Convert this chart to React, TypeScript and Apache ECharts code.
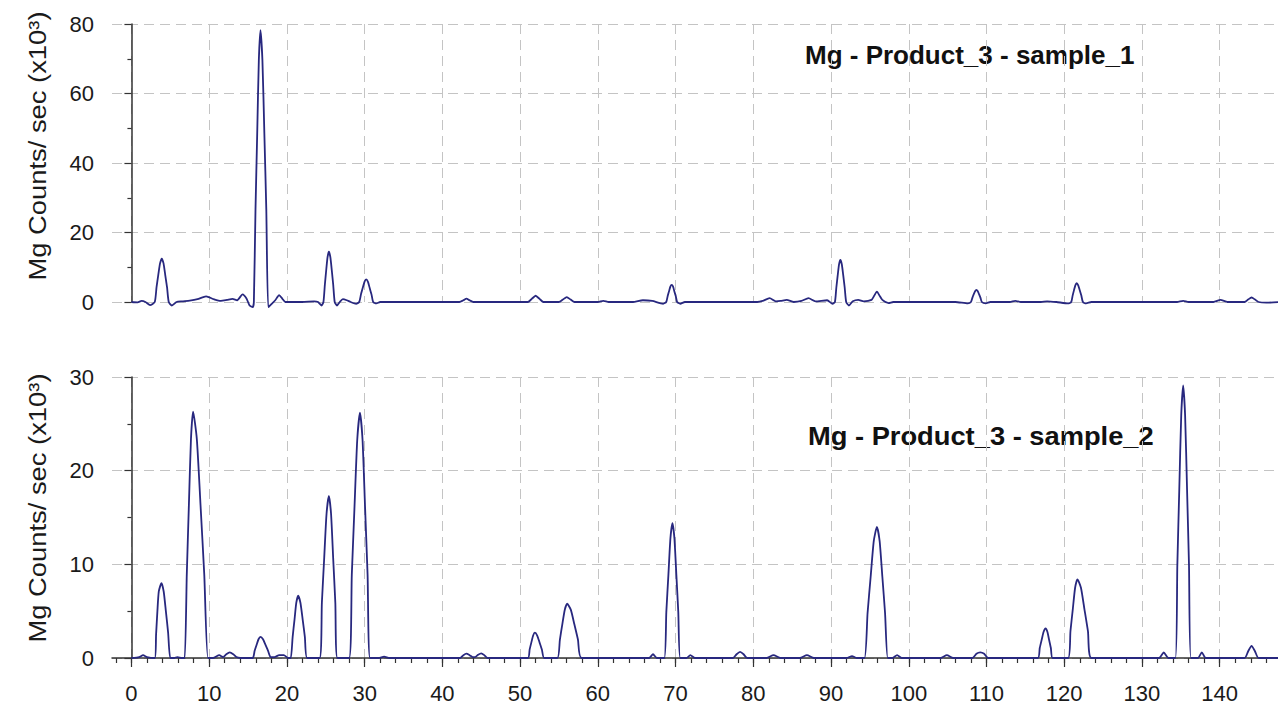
import { useEffect, useRef } from 'react';
import * as echarts from 'echarts';

const X_MIN = -2.5;
const X_MAX = 147.5;
const X_MAJOR_TICKS = [0, 10, 20, 30, 40, 50, 60, 70, 80, 90, 100, 110, 120, 130, 140];
const X_MINOR_TICKS = [-2, 0, 2, 4, 6, 8, 10, 12, 14, 16, 18, 20, 22, 24, 26, 28, 30, 32, 34, 36, 38, 40, 42, 44, 46, 48, 50, 52, 54, 56, 58, 60, 62, 64, 66, 68, 70, 72, 74, 76, 78, 80, 82, 84, 86, 88, 90, 92, 94, 96, 98, 100, 102, 104, 106, 108, 110, 112, 114, 116, 118, 120, 122, 124, 126, 128, 130, 132, 134, 136, 138, 140, 142, 144, 146];
const Y1_TICKS = [0, 20, 40, 60, 80];
const Y2_TICKS = [0, 10, 20, 30];

const TITLE_1 = 'Mg - Product_3 - sample_1';
const TITLE_2 = 'Mg - Product_3 - sample_2';
const Y_NAME = 'Mg Counts/ sec (x10³)';

// sample_1 : [position, counts/sec x10^3]
const SAMPLE_1: [number, number][] = [
  [0, 0], [0.8, -0.1], [1.3, 0.3], [1.8, 0], [2.4, -0.9], [3.0, 0],
  [3.23, 4.25], [3.45, 7.75], [3.68, 11.1], [3.9, 12.5], [4.13, 11.1], [4.35, 7.75], [4.58, 4.25], [4.8, 0],
  [5.2, -1.0], [5.8, 0], [6.5, 0.2], [7.5, 0.4], [8.5, 0.8], [9.6, 1.6], [10.6, 0.8], [11.5, 0.3], [12.3, 0.6], [13.0, 0.9], [13.6, 0.5],
  [14.3, 2.2], [14.8, 1.0], [15.2, -1.0], [15.6, -1.5], [15.75, 0],
  [15.96, 26.6], [16.18, 48.5], [16.39, 69.6], [16.6, 78.2], [16.85, 69.6], [17.1, 48.5], [17.35, 26.6], [17.6, -1.5],
  [18.0, -0.6], [18.5, 0.5], [19.0, 2.0], [19.4, 1.0], [19.8, 0], [20.5, 0], [22.0, 0], [23.5, 0.2], [24.0, 0],
  [24.45, -1.0], [24.7, 0], [24.88, 4.9], [25.05, 9.0], [25.23, 12.9], [25.4, 14.5], [25.59, 12.9], [25.78, 9.0], [25.96, 4.9], [26.15, 0],
  [26.45, -1.0], [26.8, 0], [27.2, 0.8], [27.7, 0.5], [28.2, 0], [28.9, -0.5], [29.3, 0],
  [29.53, 2.2], [29.75, 4.0], [29.98, 5.8], [30.2, 6.5], [30.43, 5.8], [30.65, 4.0], [30.88, 2.2], [31.1, 0],
  [31.5, -0.4], [32.0, 0], [42.2, 0], [42.7, 0.5], [43.1, 1.0], [43.5, 0.5], [44.0, 0],
  [51.0, 0], [51.5, 0.9], [52.0, 1.8], [52.5, 0.9], [53.0, 0], [55.0, 0], [55.5, 0.7], [56.0, 1.4], [56.5, 0.7], [57.0, 0],
  [60.0, 0], [60.7, 0.3], [61.4, 0], [64.5, 0], [65.8, 0.5], [67.0, 0.3], [68.4, -0.5], [68.8, 0],
  [68.98, 1.67], [69.15, 3.0], [69.33, 4.4], [69.5, 4.9], [69.68, 4.4], [69.85, 3.0], [70.03, 1.67], [70.2, 0],
  [70.6, -0.5], [71.2, 0], [80.5, 0], [81.2, 0.3], [82.1, 1.1], [82.9, 0.2],
  [83.5, 0.3], [84.3, 0.6], [85.2, 0], [86.2, 0.3], [87.1, 1.1], [88.0, 0.2], [89.5, 0.5], [90.2, -0.5], [90.5, 0],
  [90.68, 4.1], [90.85, 7.5], [91.03, 10.8], [91.2, 12.1], [91.39, 10.8], [91.58, 7.5], [91.76, 4.1], [91.95, 0],
  [92.3, -1.0], [92.8, 0.2], [93.5, 0.6], [94.2, 0.2], [95.2, 0.6], [95.55, 1.8], [95.9, 3.0], [96.25, 1.8], [96.6, 0.6],
  [97.4, -0.3], [98.0, 0], [106.0, 0], [107.6, -0.4], [108.0, 0],
  [108.18, 1.2], [108.35, 2.2], [108.53, 3.1], [108.7, 3.5], [108.88, 3.1], [109.05, 2.2], [109.23, 1.2], [109.4, 0],
  [109.9, -0.4], [110.5, 0], [113.0, 0], [113.7, 0.3], [114.4, 0], [117.0, 0], [117.8, 0.2], [119.0, 0], [120.5, -0.4], [120.9, 0],
  [121.08, 1.84], [121.25, 3.35], [121.43, 4.8], [121.6, 5.4], [121.8, 4.8], [122.0, 3.35], [122.2, 1.84], [122.4, 0],
  [122.8, -0.4], [123.5, 0], [134.5, 0], [135.3, 0.3], [136.0, 0], [139.2, 0], [140.1, 0.6], [141.0, 0],
  [143.2, 0], [143.65, 0.7], [144.1, 1.3], [144.55, 0.7], [145.0, 0], [146.0, -0.2], [148.0, 0],
];

// sample_2 : [position, counts/sec x10^3]
const SAMPLE_2: [number, number][] = [
  [0, 0], [1.0, 0.1], [1.5, 0.3], [2.0, 0.1], [3.0, 0],
  [3.17, 2.5], [3.34, 5.0], [3.52, 7.1], [3.86, 8.0], [4.15, 7.1], [4.43, 5.0], [4.72, 2.7], [5.0, 0],
  [5.5, 0], [5.9, 0.1], [6.5, 0], [6.85, 0],
  [7.12, 8.9], [7.39, 16.3], [7.66, 23.4], [7.93, 26.3], [8.41, 23.4], [8.89, 16.3], [9.37, 8.9], [9.85, 0],
  [10.5, 0], [11.3, 0.3], [11.8, 0.1], [12.2, 0.4], [12.65, 0.6], [13.1, 0.4], [13.5, 0.1], [14.0, 0], [15.6, 0],
  [15.85, 0.77], [16.1, 1.4], [16.35, 2.0], [16.6, 2.25], [16.93, 2.0], [17.25, 1.4], [17.58, 0.77], [17.9, 0.1],
  [18.4, 0.1], [19.0, 0.3], [19.6, 0.3], [20.2, 0], [20.5, 0],
  [20.74, 2.26], [20.98, 4.1], [21.21, 5.9], [21.45, 6.65], [21.74, 5.9], [22.03, 4.1], [22.31, 2.26], [22.6, 0],
  [24.2, 0],
  [24.5, 5.9], [24.8, 10.7], [25.1, 15.4], [25.4, 17.3], [25.68, 15.4], [25.95, 10.7], [26.23, 5.9], [26.5, 0],
  [28.0, 0],
  [28.35, 8.9], [28.7, 16.2], [29.05, 23.3], [29.4, 26.2], [29.73, 23.3], [30.05, 16.2], [30.38, 8.9], [30.7, 0],
  [31.8, 0], [32.5, 0.15], [33.2, 0], [42.3, 0], [42.7, 0.3], [43.1, 0.47], [43.5, 0.3], [43.9, 0.1], [44.2, 0.1], [44.6, 0.35],
  [45.0, 0.5], [45.4, 0.3], [45.8, 0], [51.0, 0],
  [51.23, 0.92], [51.45, 1.67], [51.68, 2.4], [51.9, 2.7], [52.2, 2.4], [52.5, 1.67], [52.8, 0.92], [53.1, 0],
  [54.8, 0],
  [55.12, 1.97], [55.43, 3.6], [55.75, 5.16], [56.06, 5.8], [56.52, 5.16], [56.98, 3.6], [57.44, 1.97], [57.9, 0],
  [66.6, 0], [67.1, 0.4], [67.6, 0], [68.55, 0],
  [68.81, 4.9], [69.08, 8.9], [69.34, 12.8], [69.6, 14.4], [69.85, 12.8], [70.1, 8.9], [70.35, 4.9], [70.6, 0],
  [71.4, 0], [71.9, 0.3], [72.5, 0], [77.4, 0], [77.85, 0.4], [78.3, 0.65], [78.75, 0.4], [79.2, 0],
  [81.7, 0], [82.6, 0.3], [83.5, 0], [86.0, 0], [86.9, 0.3], [87.8, 0], [92.0, 0], [92.7, 0.2], [93.3, 0], [94.3, 0],
  [94.7, 4.8], [95.1, 8.7], [95.5, 12.5], [95.9, 14.0], [96.25, 12.5], [96.6, 8.7], [96.95, 4.8], [97.3, 0],
  [97.9, 0], [98.5, 0.3], [99.1, 0], [104.1, 0], [104.9, 0.3], [105.7, 0], [108.2, 0], [108.7, 0.45], [109.2, 0.6], [109.7, 0.45],
  [110.2, 0], [116.6, 0],
  [116.85, 1.07], [117.1, 1.95], [117.35, 2.8], [117.6, 3.15], [117.83, 2.8], [118.05, 1.95], [118.28, 1.07], [118.5, 0],
  [120.5, 0],
  [120.8, 2.86], [121.1, 5.2], [121.4, 7.5], [121.7, 8.4], [122.15, 7.5], [122.6, 5.2], [123.05, 2.86], [123.5, 0],
  [132.2, 0], [132.8, 0.6], [133.4, 0], [134.3, 0],
  [134.55, 9.9], [134.8, 18.0], [135.05, 25.9], [135.3, 29.1], [135.55, 25.9], [135.8, 18.0], [136.05, 9.9], [136.3, 0],
  [137.2, 0], [137.7, 0.6], [138.2, 0], [143.2, 0], [143.65, 0.7], [144.1, 1.3], [144.55, 0.7], [145.0, 0], [148.0, 0],
];

const FONT = '"Liberation Sans", Arial, sans-serif';
const LINE_COLOR = '#28287f';
const AXIS_COLOR = '#333333';
const GRID_COLOR = '#c4c4c4';
const LABEL_COLOR = '#1a1a1a';

export default function App() {
  const ref = useRef<HTMLDivElement>(null);

  useEffect(() => {
    if (!ref.current) return;
    const chart = echarts.init(ref.current, undefined, { renderer: 'svg' });

    const dashed = { show: true, lineStyle: { color: GRID_COLOR, type: [10, 6] as any, width: 1 } };

    const yAxisBase = (ticks: number[], gridIndex: number) => ({
      type: 'value' as const,
      gridIndex,
      min: ticks[0],
      max: ticks[ticks.length - 1],
      interval: ticks[1] - ticks[0],
      axisLine: { show: true, lineStyle: { color: AXIS_COLOR, width: 1.5 } },
      axisTick: { show: true, length: 7, lineStyle: { color: AXIS_COLOR, width: 1.2 } },
      minorTick: { show: true, splitNumber: 2, length: 4, lineStyle: { color: AXIS_COLOR, width: 1.2 } },
      axisLabel: { color: LABEL_COLOR, fontSize: 22, fontFamily: FONT, margin: 18 },
      splitLine: dashed,
    });

    chart.setOption({
      animation: false,
      backgroundColor: '#ffffff',
      grid: [
        { left: 112, right: 0, top: 24, height: 278 },
        { left: 112, right: 0, top: 377, height: 281 },
      ],
      xAxis: [
        {
          type: 'value', gridIndex: 0, min: X_MIN, max: X_MAX,
          axisLine: { show: false },
          axisTick: { show: false, customValues: X_MAJOR_TICKS },
          axisLabel: { show: false, customValues: X_MAJOR_TICKS },
          splitLine: dashed,
        },
        {
          type: 'value', gridIndex: 1, min: X_MIN, max: X_MAX,
          axisLine: { show: true, onZero: false, lineStyle: { color: AXIS_COLOR, width: 1.5 } },
          axisTick: { show: true, length: 9, customValues: X_MAJOR_TICKS, lineStyle: { color: AXIS_COLOR, width: 1.2 } },
          axisLabel: { show: true, customValues: X_MAJOR_TICKS, color: LABEL_COLOR, fontSize: 22, fontFamily: FONT, margin: 24 },
          splitLine: dashed,
        },
        {
          type: 'value', gridIndex: 1, min: X_MIN, max: X_MAX, position: 'bottom',
          axisLine: { show: false, onZero: false },
          axisTick: { show: true, length: 5, customValues: X_MINOR_TICKS, lineStyle: { color: AXIS_COLOR, width: 1.2 } },
          axisLabel: { show: false },
          splitLine: { show: false },
        },
      ],
      yAxis: [yAxisBase(Y1_TICKS, 0), yAxisBase(Y2_TICKS, 1)],
      series: [
        {
          name: TITLE_1, type: 'line', xAxisIndex: 0, yAxisIndex: 0, data: SAMPLE_1,
          showSymbol: false, clip: false, smooth: 0.2,
          lineStyle: { color: LINE_COLOR, width: 1.8 },
        },
        {
          name: TITLE_2, type: 'line', xAxisIndex: 1, yAxisIndex: 1, data: SAMPLE_2,
          showSymbol: false, clip: true, smooth: 0.2,
          lineStyle: { color: LINE_COLOR, width: 1.8 },
        },
      ],
      graphic: [
        {
          type: 'text', x: 805, y: 55,
          style: { text: TITLE_1, font: `bold 26px ${FONT}`, fill: '#111', align: 'left', verticalAlign: 'middle' },
        },
        {
          type: 'text', x: 808, y: 436, scaleX: 1.05,
          style: { text: TITLE_2, font: `bold 26px ${FONT}`, fill: '#111', align: 'left', verticalAlign: 'middle' },
        },
        {
          type: 'text', x: 38, y: 146, rotation: Math.PI / 2, scaleX: 1.14,
          style: { text: Y_NAME, font: `24px ${FONT}`, fill: LABEL_COLOR, align: 'center', verticalAlign: 'middle' },
        },
        {
          type: 'text', x: 38, y: 508, rotation: Math.PI / 2, scaleX: 1.14,
          style: { text: Y_NAME, font: `24px ${FONT}`, fill: LABEL_COLOR, align: 'center', verticalAlign: 'middle' },
        },
      ],
    });

    return () => chart.dispose();
  }, []);

  return (
    <div
      ref={ref}
      style={{ position: 'fixed', left: 0, top: 0, width: 1278, height: 707, background: '#fff' }}
    />
  );
}
